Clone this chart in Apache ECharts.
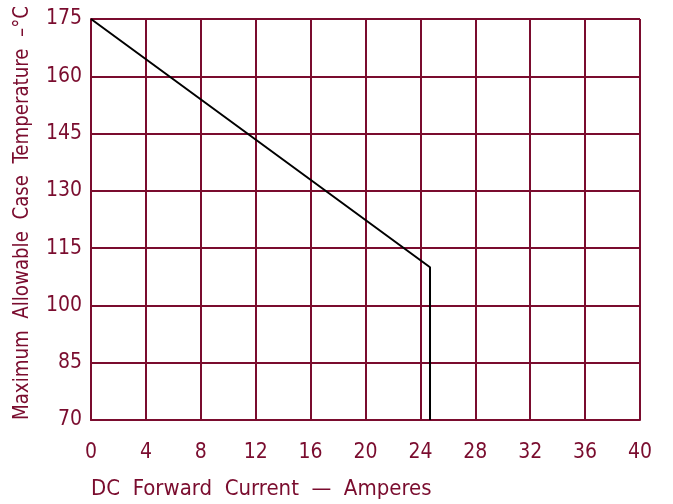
<!DOCTYPE html>
<html><head><meta charset="utf-8">
<script src="https://cdn.jsdelivr.net/npm/echarts@6/dist/echarts.min.js"></script>
<style>html,body{margin:0;padding:0;background:#fff}#c{width:673px;height:504px}</style>
</head><body><div id="c"></div>
<script>
const currentA = [0, 24.7, 24.7];
const caseTempC = [175, 110, 70];
const xTicks = [0, 4, 8, 12, 16, 20, 24, 28, 32, 36, 40];
const yTicks = [70, 85, 100, 115, 130, 145, 160, 175];
const xTitle = 'DC  Forward  Current  —  Amperes';
const yTitle = 'Maximum  Allowable  Case  Temperature  –°C';

const Y0 = yTicks[0];
const maroon = '#7a0c2e';
const font = "'DejaVu Sans Condensed', 'Liberation Sans', sans-serif";
const chart = echarts.init(document.getElementById('c'), null, {renderer: 'canvas'});
chart.setOption({
  animation: false,
  backgroundColor: '#fff',
  grid: {left: 91, right: 33, top: 19, bottom: 84, show: false, containLabel: false, outerBoundsMode: 'none'},
  xAxis: {
    type: 'value', min: xTicks[0], max: xTicks[xTicks.length - 1], interval: 4,
    axisLine: {show: true, lineStyle: {color: maroon, width: 2}},
    axisTick: {show: false},
    splitLine: {show: true, lineStyle: {color: maroon, width: 2}},
    axisLabel: {color: maroon, fontFamily: font, fontSize: 21, margin: 22}
  },
  yAxis: {
    type: 'value', min: 0, max: yTicks[yTicks.length - 1] - Y0, interval: 15,
    axisLine: {show: true, lineStyle: {color: maroon, width: 2}},
    axisTick: {show: false},
    splitLine: {show: true, lineStyle: {color: maroon, width: 2}},
    axisLabel: {color: maroon, fontFamily: font, fontSize: 21, margin: 9, formatter: v => String(v + Y0)}
  },
  graphic: [
    {type: 'text', left: 91, top: 478, style: {text: xTitle, fill: maroon, font: '22px ' + font}},
    {type: 'text', x: 22, y: 213, rotation: Math.PI / 2, scaleX: 0.92, style: {text: yTitle, fill: maroon, font: '22px ' + font, align: 'center', verticalAlign: 'middle'}}
  ],
  series: [{
    type: 'line', symbol: 'none',
    data: currentA.map((x, i) => [x, caseTempC[i] - Y0]),
    lineStyle: {color: '#000', width: 2}
  }]
});
</script></body></html>
